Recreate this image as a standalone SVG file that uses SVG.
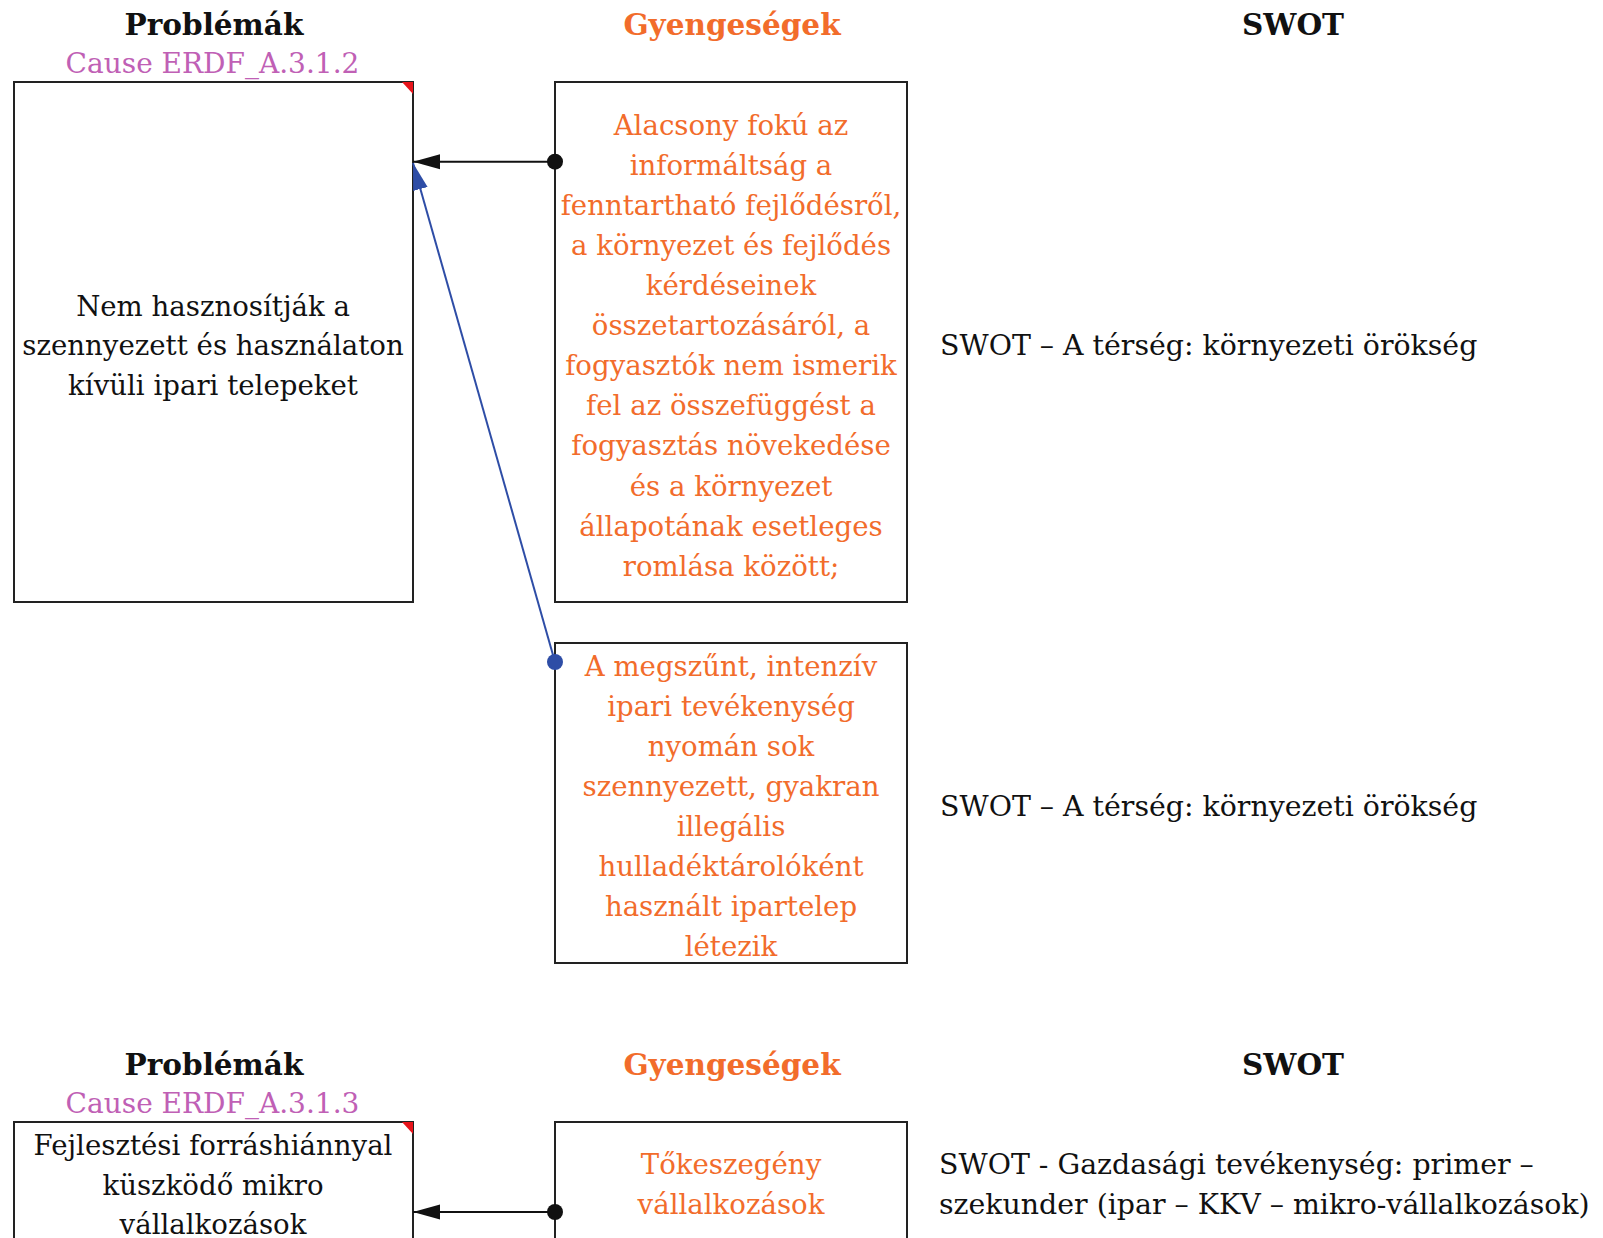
<svg xmlns="http://www.w3.org/2000/svg" width="1603" height="1238" viewBox="0 0 1603 1238">
<defs>
<style>
text{font-family:"DejaVu Serif","Liberation Serif",serif;}
.hd{font-size:29.5px;font-weight:bold;text-anchor:middle;fill:#111;}
.ho{fill:#F26C2B;}
.cause{font-size:28px;fill:#C060B5;text-anchor:middle;}
.box{fill:#fff;stroke:#222;stroke-width:2;}
.t{font-size:27.6px;fill:#111;text-anchor:middle;}
.o{font-size:27.6px;fill:#F26C2B;text-anchor:middle;}
.s{font-size:28.4px;fill:#111;}
.flag{fill:#E8141B;}
.cb{stroke:#111;stroke-width:2;fill:none;}
.cu{stroke:#2E4DA6;stroke-width:2;fill:none;}
</style>
<marker id="ab" markerUnits="userSpaceOnUse" viewBox="0 -9 28 18" refX="27" refY="0" markerWidth="28" markerHeight="18" orient="auto"><path d="M0,0 L27,-7.5 L27,7.5 z" transform="rotate(180 13.5 0)" fill="#111"/></marker>
<marker id="au" markerUnits="userSpaceOnUse" viewBox="0 -9 28 18" refX="27" refY="0" markerWidth="28" markerHeight="18" orient="auto"><path d="M0,0 L27,-7.5 L27,7.5 z" transform="rotate(180 13.5 0)" fill="#2E4DA6"/></marker>
<marker id="db" markerUnits="userSpaceOnUse" viewBox="-9 -9 18 18" refX="0" refY="0" markerWidth="18" markerHeight="18"><circle r="8" fill="#111"/></marker>
<marker id="du" markerUnits="userSpaceOnUse" viewBox="-9 -9 18 18" refX="0" refY="0" markerWidth="18" markerHeight="18"><circle r="8" fill="#2E4DA6"/></marker>
</defs>
<rect width="1603" height="1238" fill="#fff"/>

<g id="headers-1">
<text class="hd" x="214" y="35">Problémák</text>
<text class="hd ho" x="732" y="35">Gyengeségek</text>
<text class="hd" x="1293" y="35">SWOT</text>
<text class="cause" x="212.5" y="73">Cause ERDF_A.3.1.2</text>
</g>

<g id="problem-1">
<rect class="box" x="14" y="82" width="399" height="520"/>
<path class="flag" d="M402,82 L413,82 L413,94 z"/>
<text class="t" x="213" y="316">Nem hasznosítják a</text>
<text class="t" x="213" y="355">szennyezett és használaton</text>
<text class="t" x="213" y="395">kívüli ipari telepeket</text>
</g>

<g id="weakness-1">
<rect class="box" x="555" y="82" width="352" height="520"/>
<text class="o" x="731" y="135">Alacsony fokú az</text>
<text class="o" x="731" y="175">informáltság a</text>
<text class="o" x="731" y="215">fenntartható fejlődésről,</text>
<text class="o" x="731" y="255">a környezet és fejlődés</text>
<text class="o" x="731" y="295">kérdéseinek</text>
<text class="o" x="731" y="335">összetartozásáról, a</text>
<text class="o" x="731" y="375">fogyasztók nem ismerik</text>
<text class="o" x="731" y="415">fel az összefüggést a</text>
<text class="o" x="731" y="455">fogyasztás növekedése</text>
<text class="o" x="731" y="496">és a környezet</text>
<text class="o" x="731" y="536">állapotának esetleges</text>
<text class="o" x="731" y="576">romlása között;</text>
</g>

<g id="weakness-2">
<rect class="box" x="555" y="643" width="352" height="320"/>
<text class="o" x="731" y="676">A megszűnt, intenzív</text>
<text class="o" x="731" y="716">ipari tevékenység</text>
<text class="o" x="731" y="756">nyomán sok</text>
<text class="o" x="731" y="796">szennyezett, gyakran</text>
<text class="o" x="731" y="836">illegális</text>
<text class="o" x="731" y="876">hulladéktárolóként</text>
<text class="o" x="731" y="916">használt ipartelep</text>
<text class="o" x="731" y="956">létezik</text>
</g>

<g id="swot-1">
<text class="s" x="940" y="355">SWOT – A térség: környezeti örökség</text>
</g>
<g id="swot-2">
<text class="s" x="940" y="816">SWOT – A térség: környezeti örökség</text>
</g>

<g id="headers-2">
<text class="hd" x="214" y="1075">Problémák</text>
<text class="hd ho" x="732" y="1075">Gyengeségek</text>
<text class="hd" x="1293" y="1075">SWOT</text>
<text class="cause" x="212.5" y="1113">Cause ERDF_A.3.1.3</text>
</g>

<g id="problem-2">
<rect class="box" x="14" y="1122" width="399" height="160"/>
<path class="flag" d="M402,1122 L413,1122 L413,1134 z"/>
<text class="t" x="213" y="1155">Fejlesztési forráshiánnyal</text>
<text class="t" x="213" y="1195">küszködő mikro</text>
<text class="t" x="213" y="1234">vállalkozások</text>
</g>

<g id="weakness-3">
<rect class="box" x="555" y="1122" width="352" height="160"/>
<text class="o" x="731" y="1174">Tőkeszegény</text>
<text class="o" x="731" y="1214">vállalkozások</text>
</g>

<g id="swot-3">
<text class="s" x="939" y="1174">SWOT - Gazdasági tevékenység: primer –</text>
<text class="s" x="939" y="1214">szekunder (ipar – KKV – mikro-vállalkozások)</text>
</g>

<g id="connectors">
<path class="cb" d="M555,161.7 L413,161.7" marker-start="url(#db)" marker-end="url(#ab)"/>
<path class="cu" d="M555,662 L413,163" marker-start="url(#du)" marker-end="url(#au)"/>
<path class="cb" d="M555,1212 L413,1212" marker-start="url(#db)" marker-end="url(#ab)"/>
</g>
</svg>
